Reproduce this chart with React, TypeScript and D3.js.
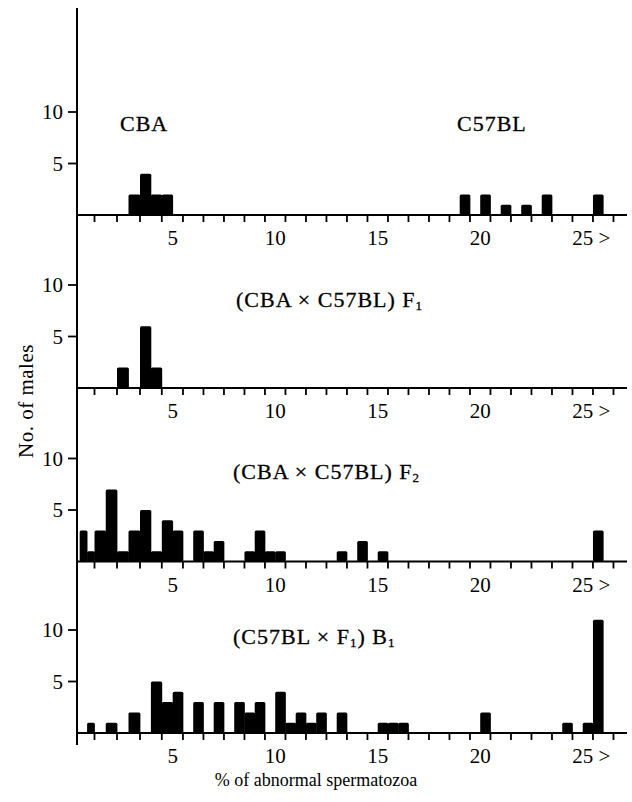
import * as d3 from "d3";

// counts per half-percent class, keyed by the class's lower edge
const cbaStarts = [3, 3.5, 4, 4.5];
const cbaCounts = [2, 4, 2, 2];
const c57Starts = [19, 20, 21, 22, 23, 25.5];
const c57Counts = [2, 2, 1, 1, 2, 2];
const f1Starts = [2.5, 3.5, 4];
const f1Counts = [2, 6, 2];
const f2Starts = [0.5, 1, 1.5, 2, 2.5, 3, 3.5, 4, 4.5, 5, 6, 6.5, 7, 8.5, 9, 9.5, 10, 13, 14, 15, 25.5];
const f2Counts = [3, 1, 3, 7, 1, 3, 5, 1, 4, 3, 3, 1, 2, 1, 3, 1, 1, 1, 2, 1, 3];
const b1Starts = [1, 2, 3, 4, 4.5, 5, 6, 7, 8, 8.5, 9, 10, 10.5, 11, 11.5, 12, 13, 15, 15.5, 16, 20, 24, 25, 25.5];
const b1Counts = [1, 1, 2, 5, 3, 4, 3, 3, 3, 2, 3, 4, 1, 2, 1, 2, 2, 1, 1, 1, 2, 1, 1, 11];

const xTickLabels = [5, 10, 15, 20, 25];
const yTickLabels = [5, 10];
const binWidth = 0.5;

const font = "'Liberation Serif', 'Times New Roman', serif";

// hand-drawn axis: slightly uneven at the left end
const x = d3
  .scaleLinear()
  .domain([0.32, 1.5, 2.5, 3.5, 5, 27.16])
  .range([77, 94.5, 117, 140, 172.7, 627]);

const axisX = 77;
const axisEnd = 627;

const panels = [
  {
    baseline: 215,
    series: [
      { starts: cbaStarts, counts: cbaCounts },
      { starts: c57Starts, counts: c57Counts },
    ],
    labels: [
      { x: 120, dy: -84, main: "CBA", sub: "", tail: "" },
      { x: 457, dy: -84, main: "C57BL", sub: "", tail: "" },
    ],
  },
  {
    baseline: 388,
    series: [{ starts: f1Starts, counts: f1Counts }],
    labels: [{ x: 236, dy: -81, main: "(CBA × C57BL) F", sub: "1", tail: "" }],
  },
  {
    baseline: 561.5,
    series: [{ starts: f2Starts, counts: f2Counts }],
    labels: [{ x: 233, dy: -83, main: "(CBA × C57BL) F", sub: "2", tail: "" }],
  },
  {
    baseline: 733,
    series: [{ starts: b1Starts, counts: b1Counts }],
    labels: [{ x: 233, dy: -89, main: "(C57BL × F", sub: "1", tail: ") B", sub2: "1" }],
  },
];

function Panel({ panel }) {
  const b = panel.baseline;
  const y = d3.scaleLinear().domain([0, 10]).range([b, b - 103]);
  const ticks = d3.range(1.5, 27, 1);

  return (
    <g>
      {panel.series.map((s, si) =>
        s.starts.map((start, i) => (
          <rect
            key={si + "-" + i}
            x={x(start)}
            y={y(s.counts[i])}
            width={x(start + binWidth) - x(start) + 0.4}
            height={b - y(s.counts[i])}
            rx={1.5}
            fill="#000"
          />
        ))
      )}
      <line x1={axisX} x2={axisEnd} y1={b} y2={b} stroke="#000" strokeWidth={1.8} />
      {ticks.map((t) => (
        <line key={t} x1={x(t)} x2={x(t)} y1={b} y2={b + 7} stroke="#000" strokeWidth={1.8} />
      ))}
      {xTickLabels.map((v) => (
        <text
          key={v}
          x={v === 25 ? x(v) - 10.5 : x(v)}
          y={b + 30}
          textAnchor={v === 25 ? "start" : "middle"}
          fontSize={21}
          fontFamily={font}
        >
          {v === 25 ? "25 >" : v}
        </text>
      ))}
      {yTickLabels.map((v) => (
        <g key={v}>
          <line x1={axisX - 9} x2={axisX} y1={y(v)} y2={y(v)} stroke="#000" strokeWidth={1.8} />
          <text x={axisX - 14} y={y(v) + 7} textAnchor="end" fontSize={21} fontFamily={font}>
            {v}
          </text>
        </g>
      ))}
      {panel.labels.map((l, i) => (
        <text
          key={i}
          x={l.x}
          y={b + l.dy}
          fontSize={22}
          fontFamily={font}
          letterSpacing={1}
          stroke="#000"
          strokeWidth={0.3}
        >
          {l.main}
          {l.sub && (
            <tspan fontSize={13} dy={3}>
              {l.sub}
            </tspan>
          )}
          {l.tail && (
            <tspan dy={-3}>{l.tail}</tspan>
          )}
          {l.sub2 && (
            <tspan fontSize={13} dy={3}>
              {l.sub2}
            </tspan>
          )}
        </text>
      ))}
    </g>
  );
}

export default function App() {
  return (
    <svg
      width={632}
      height={802}
      style={{ position: "absolute", left: 0, top: 0, background: "#fff" }}
    >
      <line x1={axisX} x2={axisX} y1={8} y2={745} stroke="#000" strokeWidth={2} />
      {panels.map((p, i) => (
        <Panel key={i} panel={p} />
      ))}
      <text
        transform="translate(33,401) rotate(-90)"
        textAnchor="middle"
        fontSize={21}
        fontFamily={font}
        letterSpacing={0.5}
      >
        No. of males
      </text>
      <text x={316} y={786} textAnchor="middle" fontSize={18} fontFamily={font}>
        % of abnormal spermatozoa
      </text>
    </svg>
  );
}
